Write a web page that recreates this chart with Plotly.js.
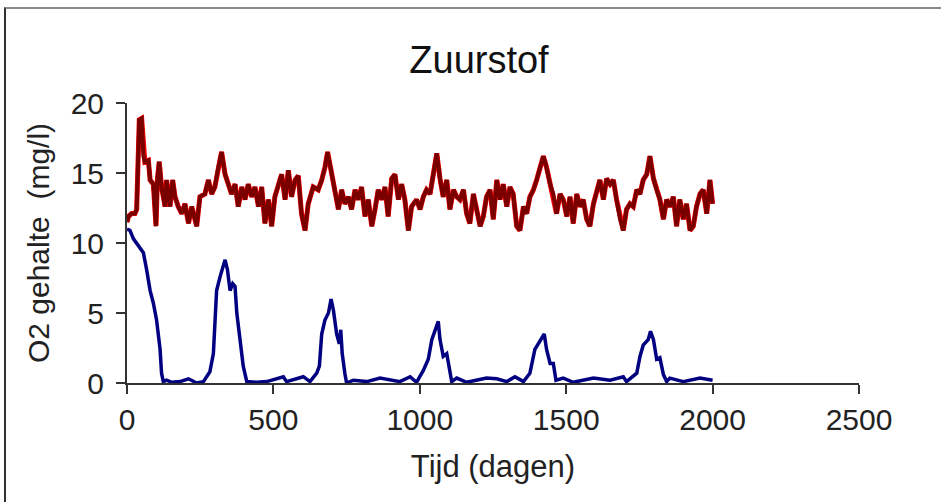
<!DOCTYPE html>
<html>
<head>
<meta charset="utf-8">
<script src="https://cdn.plot.ly/plotly-3.0.1.min.js"></script>
<style>
  html, body { margin: 0; padding: 0; background: #fff; }
  #wrap { position: relative; width: 941px; height: 502px; overflow: hidden; }
  #chart { position: absolute; left: 0; top: 0; width: 941px; height: 502px; }
  #frame { position: absolute; left: 4px; top: 7px; width: 1000px; height: 600px;
           border-top: 2px solid #8a8a8a; border-left: 2px solid #303030; pointer-events: none; }
</style>
</head>
<body>
<div id="wrap">
  <div id="chart"></div>
  <div id="frame"></div>
</div>
<script>
// Red (dark red) series: day, value (mg/l)
const daysRed = [0,5,16,27,33,42,50,56,61,73,79,90,99,104,110,118,130,135,147,156,164,175,187,198,210,221,238,249,266,278,289,300,312,323,335,346,357,369,380,392,403,414,426,437,449,460,471,483,494,505,517,528,540,551,562,574,585,596,608,619,636,653,665,676,685,699,710,722,733,744,756,767,779,790,801,813,824,836,847,858,870,881,892,904,915,927,938,949,961,972,989,
1001,1012,1023,1035,1046,1058,1069,1080,1092,1103,1115,1126,1137,1149,1160,1171,1183,1194,1206,1217,1228,1240,1251,1263,1274,1285,1297,1308,1319,1331,1342,1354,1365,1376,1388,1399,1411,1422,1433,1445,1456,1467,1479,1490,1502,1513,1524,1536,1547,1558,1570,1581,1593,1604,1615,1627,1638,1650,1661,1672,1684,1695,1706,1718,1729,1741,1752,1763,1775,1786,1798,1809,1820,1832,1843,1854,1866,1877,1888,1900,1911,1923,1934,1945,1957,1968,1980,1991,2000];
const o2Red = [11.5,11.9,12.1,12.1,12.4,18.8,18.9,16.2,15.8,15.9,14.5,14.2,11.2,14.6,15.8,14.0,12.6,14.5,12.6,14.5,13.3,12.6,12.1,12.8,11.4,12.6,11.2,13.3,13.5,14.5,13.5,14.0,15.4,16.5,14.9,14.2,13.5,14.2,12.6,14.0,13.1,14.2,13.3,14.0,12.6,14.0,11.4,13.1,11.2,13.3,14.2,14.9,13.1,15.2,13.3,14.5,14.8,12.1,10.9,12.8,14.0,13.8,14.5,15.4,16.5,14.9,14.0,12.4,13.8,12.8,13.3,12.4,13.8,13.1,14.0,11.9,13.1,11.2,12.4,13.8,13.1,14.0,11.9,14.6,14.9,13.1,14.2,13.1,10.9,12.6,13.1,
12.4,13.3,13.8,13.5,14.9,16.4,14.6,13.3,14.5,12.4,13.8,13.3,13.1,13.8,12.1,11.4,13.5,12.4,11.2,11.9,13.3,13.8,11.7,14.5,13.1,14.2,12.6,14.0,13.5,11.2,10.9,12.6,12.1,13.3,13.8,14.5,15.4,16.2,15.4,14.2,13.5,12.1,13.5,13.1,11.9,13.3,11.4,13.5,12.6,13.1,11.7,11.2,12.8,13.8,14.5,13.1,14.6,14.2,14.5,13.1,11.7,10.9,12.4,12.8,12.6,13.8,13.5,14.5,14.9,16.2,14.6,13.8,13.1,11.7,13.1,12.6,13.3,11.2,13.1,11.7,12.8,10.9,11.2,12.6,13.5,13.8,12.1,14.5,12.8,12.4];

// Blue series: day, value (mg/l)
const daysBlue = [0,10,22,33,45,56,67,79,90,101,113,118,124,135,153,181,210,238,261,272,283,295,300,306,318,327,335,343,352,361,369,375,386,397,409,443,477,534,545,602,625,648,657,665,676,688,697,705,716,725,730,735,744,750,773,819,864,898,932,967,989,1012,1029,1041,1052,1063,1069,1080,1092,1101,1109,1126,1160,1228,1263,1297,1325,1354,1376,1393,1405,1416,1425,1433,1445,1456,1465,1490,1524,1593,1650,1695,1706,1741,1752,1763,1780,1788,1798,1809,1820,1832,1843,1854,1900,1957,1991,2000];
const o2Blue = [11.0,10.9,10.3,10.0,9.6,9.3,8.1,6.6,5.7,4.5,2.4,0.7,0.1,0.2,0.05,0.1,0.3,0.0,0.1,0.4,0.8,2.1,4.5,6.6,7.6,8.3,8.8,8.1,6.6,7.1,6.9,5.0,3.3,1.2,0.1,0.05,0.1,0.45,0.1,0.45,0.1,0.7,1.2,3.5,4.5,5.0,6.0,5.2,3.5,2.8,3.8,2.1,0.7,0.0,0.2,0.1,0.35,0.2,0.1,0.45,0.05,0.9,1.7,3.1,3.8,4.4,3.1,1.9,2.1,0.9,0.1,0.35,0.05,0.35,0.3,0.1,0.45,0.1,0.7,2.4,2.8,3.1,3.5,2.4,1.4,1.4,0.2,0.35,0.05,0.35,0.2,0.45,0.1,0.7,1.9,2.7,3.1,3.7,3.1,1.7,1.8,0.6,0.1,0.35,0.1,0.35,0.2,0.2];

const xTicks = [0,500,1000,1500,2000,2500];
const yTicks = [0,5,10,15,20];

const FONT = 'Liberation Sans, Arial, sans-serif';

const traces = [
  { x: daysRed, y: o2Red, type: 'scatter', mode: 'lines',
    line: { color: '#ff0000', width: 5 }, hoverinfo: 'skip', showlegend: false },
  { x: daysRed, y: o2Red, type: 'scatter', mode: 'lines',
    line: { color: '#7a0000', width: 4 }, hoverinfo: 'skip', showlegend: false },
  { x: daysBlue, y: o2Blue, type: 'scatter', mode: 'lines',
    line: { color: '#000080', width: 3.5 }, hoverinfo: 'skip', showlegend: false }
];

const axisCommon = {
  showgrid: false, zeroline: false, showline: true,
  linecolor: '#333', linewidth: 2,
  ticks: 'outside', ticklen: 9, tickwidth: 2, tickcolor: '#333',
  tickfont: { family: FONT, size: 30, color: '#222' },
  automargin: false, fixedrange: true
};

const layout = {
  width: 941, height: 502,
  margin: { l: 127, r: 82, t: 103, b: 119 },
  paper_bgcolor: 'rgba(0,0,0,0)', plot_bgcolor: 'rgba(0,0,0,0)',
  title: { text: 'Zuurstof', font: { family: FONT, size: 38, color: '#111' },
           x: 479/941, xref: 'container', xanchor: 'center',
           y: 1 - 60/502, yref: 'container', yanchor: 'middle' },
  xaxis: Object.assign({}, axisCommon, {
    range: [0, 2500], tickvals: xTicks, ticktext: xTicks.map(String),
    title: { text: 'Tijd (dagen)', font: { family: FONT, size: 31, color: '#222' }, standoff: 20 }
  }),
  yaxis: Object.assign({}, axisCommon, {
    range: [0, 20], tickvals: yTicks, ticktext: yTicks.map(String),
    ticklabelstandoff: 6,
    title: { text: 'O2 gehalte  (mg/l)', font: { family: FONT, size: 30, color: '#222' }, standoff: 12 }
  }),
  showlegend: false
};

Plotly.newPlot('chart', traces, layout, { staticPlot: true, displayModeBar: false });
</script>
</body>
</html>
